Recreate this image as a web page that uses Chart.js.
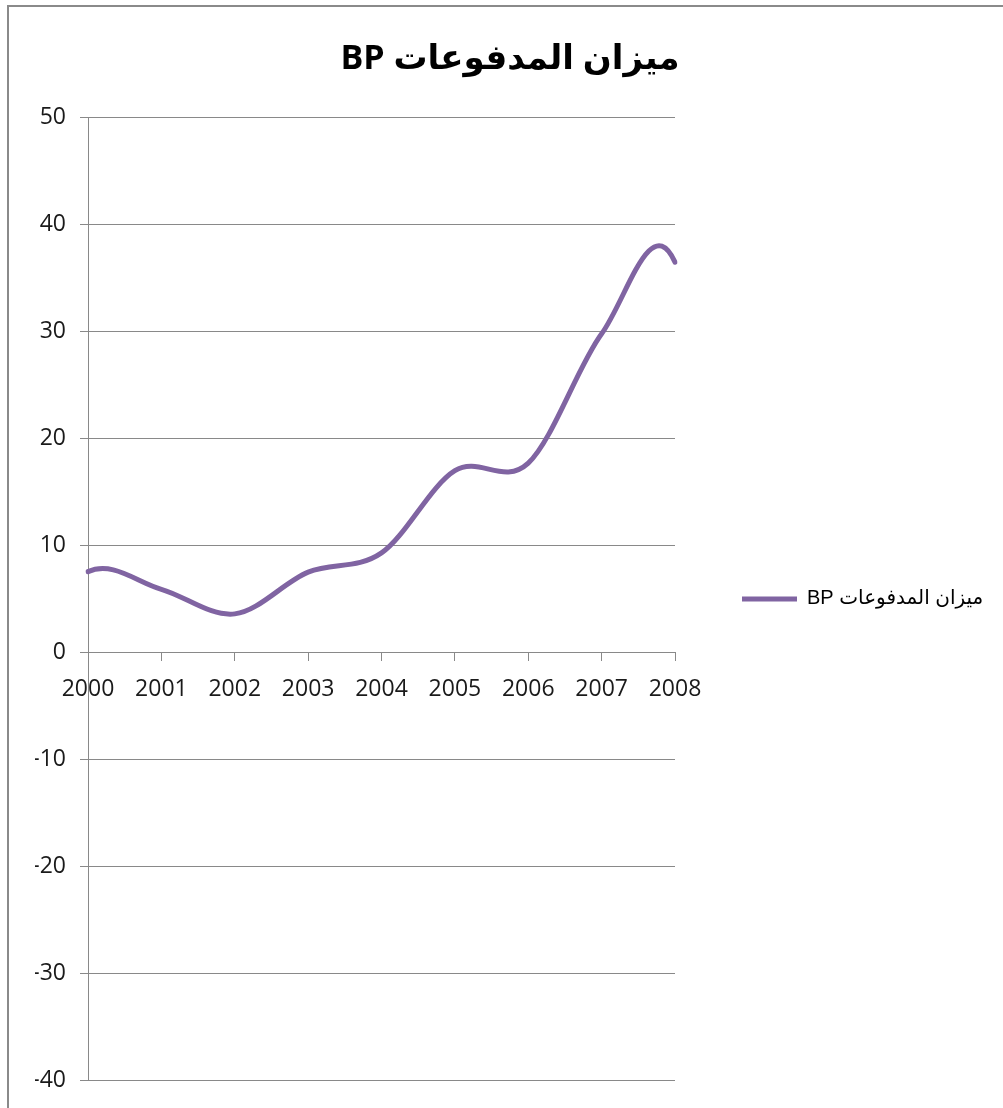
<!DOCTYPE html>
<html lang="ar">
<head>
<meta charset="utf-8">
<title>ميزان المدفوعات BP</title>
<script src="https://cdn.jsdelivr.net/npm/chart.js@4.4.1/dist/chart.umd.min.js"></script>
<style>
  html, body { margin: 0; padding: 0; background: #ffffff; overflow: hidden; }
  #wrap { position: relative; width: 1003px; height: 1108px; }
  #frame {
    position: absolute; left: 7px; top: 5px; width: 1200px; height: 1300px;
    border-left: 2px solid #8a8a8a; border-top: 2px solid #8a8a8a;
    pointer-events: none;
  }
  canvas { position: absolute; left: 0; top: 0; }
</style>
</head>
<body>
<div id="wrap">
  <canvas id="bpChart" width="1003" height="1108"></canvas>
  <div id="frame"></div>
</div>
<script>
// Years on the category axis
const years = ['2000', '2001', '2002', '2003', '2004', '2005', '2006', '2007', '2008'];
// Balance of payments values per year
const bpValues = [7.55, 5.9, 3.6, 7.5, 9.3, 17.0, 17.7, 29.8, 36.5];
// Value axis range and tick step
const yMin = -40;
const yMax = 50;
const yStep = 10;
// Texts
const seriesName = 'ميزان المدفوعات BP';
const chartTitle = 'ميزان المدفوعات BP';

const lineColor = '#8064a2';
const gridColor = '#898989';
const tickFont = { family: "'Open Sans', 'DejaVu Sans', sans-serif", size: 23 };

// Right-to-left embedding so the Arabic phrase keeps its reading order
const rtl = (s) => '\u202B' + s + '\u202C';

// Smoothed line: Catmull-Rom tangents inside, and end segments whose
// end tangent mirrors the neighbouring one (slightly stronger).
const END_TANGENT_GAIN = 1.6;
const smoothLine = {
  id: 'smoothLine',
  beforeDatasetDraw(chart, args) {
    const meta = args.meta;
    const line = meta.dataset;
    if (!line || !line.points) return;
    line.updateControlPoints(chart.chartArea, meta.iScale.axis);
    const pts = line.points;
    const n = pts.length;
    if (n < 3) return;
    for (let i = 1; i < n - 1; i++) {
      const dx = (pts[i + 1].x - pts[i - 1].x) / 6;
      const dy = (pts[i + 1].y - pts[i - 1].y) / 6;
      pts[i].cp1x = pts[i].x - dx; pts[i].cp1y = pts[i].y - dy;
      pts[i].cp2x = pts[i].x + dx; pts[i].cp2y = pts[i].y + dy;
    }
    const first = pts[0], second = pts[1];
    first.cp2x = first.x + (second.x - second.cp1x);
    first.cp2y = first.y + END_TANGENT_GAIN * (second.cp1y - second.y);
    const last = pts[n - 1], prev = pts[n - 2];
    last.cp1x = last.x - (prev.cp2x - prev.x);
    last.cp1y = last.y + END_TANGENT_GAIN * (prev.cp2y - prev.y);
    line._path = undefined;
  }
};

new Chart(document.getElementById('bpChart'), {
  type: 'line',
  data: {
    labels: years,
    datasets: [{
      label: seriesName,
      data: bpValues,
      borderColor: lineColor,
      backgroundColor: lineColor,
      borderWidth: 5,
      borderCapStyle: 'round',
      borderJoinStyle: 'round',
      pointRadius: 0,
      pointHoverRadius: 0,
      pointStyle: 'line',
      tension: 0.4,
      fill: false
    }]
  },
  options: {
    responsive: false,
    animation: false,
    events: [],
    layout: { padding: { left: 35, right: 18, top: 0, bottom: 28 } },
    scales: {
      x: {
        type: 'category',
        position: { y: 0 },
        offset: false,
        grid: {
          drawOnChartArea: false,
          drawTicks: true,
          tickLength: 8,
          color: gridColor,
          lineWidth: 1
        },
        border: { display: true, color: gridColor, width: 1 },
        ticks: {
          color: '#1a1a1a',
          font: tickFont,
          padding: 15,
          maxRotation: 0,
          autoSkip: false
        }
      },
      y: {
        min: yMin,
        max: yMax,
        afterFit(scale) { scale.width = 53; },
        grid: {
          color: gridColor,
          lineWidth: 1,
          drawTicks: true,
          tickLength: 8
        },
        border: { display: true, color: gridColor, width: 1 },
        ticks: {
          stepSize: yStep,
          color: '#1a1a1a',
          font: tickFont,
          padding: 14
        }
      }
    },
    plugins: {
      title: {
        display: true,
        text: rtl(chartTitle),
        color: '#000000',
        font: { family: "'Open Sans', 'DejaVu Sans', sans-serif", size: 34, weight: 'bold' },
        padding: { top: 39, bottom: 38 }
      },
      legend: {
        display: true,
        position: 'right',
        fullSize: false,
        maxWidth: 310,
        labels: {
          usePointStyle: true,
          pointStyleWidth: 55,
          padding: 67,
          color: '#000000',
          font: { family: "'Liberation Sans', 'DejaVu Sans', sans-serif", size: 20 },
          generateLabels(chart) {
            const items = Chart.defaults.plugins.legend.labels.generateLabels(chart);
            items.forEach((item) => { item.text = rtl(item.text); });
            return items;
          }
        }
      },
      tooltip: { enabled: false }
    }
  },
  plugins: [smoothLine]
});
</script>
</body>
</html>
